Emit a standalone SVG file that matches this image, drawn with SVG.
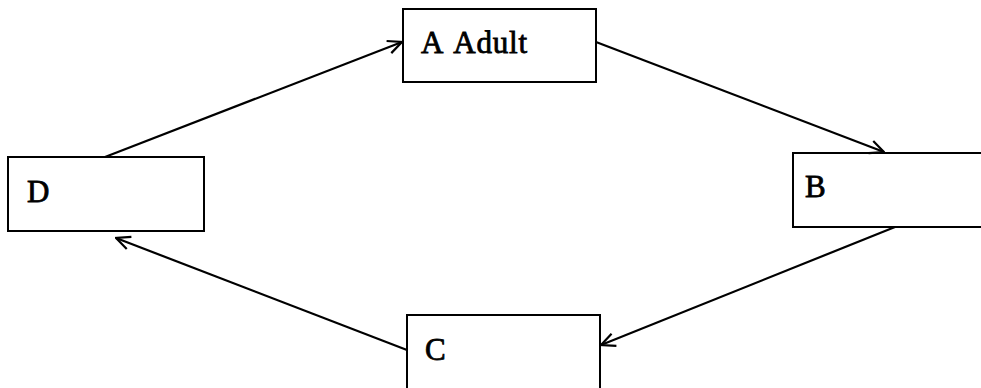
<svg xmlns="http://www.w3.org/2000/svg" width="981" height="388" viewBox="0 0 981 388">
<style>
.box{fill:#fff;stroke:#000;stroke-width:2}
.lbl{font-family:"Liberation Serif","Times New Roman",serif;font-size:31px;font-weight:normal;fill:#000;stroke:#000;stroke-width:0.8;letter-spacing:0.8px}
.edge{fill:none;stroke:#000;stroke-width:2.2}
</style>
<defs>
<marker id="arr" viewBox="0 0 16 16" refX="15" refY="8" markerWidth="16" markerHeight="16" markerUnits="userSpaceOnUse" orient="auto">
<path d="M1,1.5 L15,8 L1,14.5" fill="none" stroke="#000" stroke-width="2.2"/>
</marker>
</defs>
<rect width="981" height="388" fill="#fff"/>
<g id="node-A"><rect class="box" x="403" y="9" width="193" height="73"/><text class="lbl" x="421" y="53" word-spacing="4">A Adult</text></g>
<g id="node-B"><rect class="box" x="793" y="153" width="200" height="74"/><text class="lbl" x="805" y="197">B</text></g>
<g id="node-C"><rect class="box" x="407" y="315" width="193" height="80"/><text class="lbl" x="425" y="360">C</text></g>
<g id="node-D"><rect class="box" x="8" y="157" width="196" height="74"/><text class="lbl" x="27" y="202">D</text></g>
<g id="connectors">
<path class="edge" d="M105,157 L402,42" marker-end="url(#arr)"/>
<path class="edge" d="M596,42 L884,152" marker-end="url(#arr)"/>
<path class="edge" d="M895,227 L601,345" marker-end="url(#arr)"/>
<path class="edge" d="M407,350 L116,238" marker-end="url(#arr)"/>
</g>
</svg>
